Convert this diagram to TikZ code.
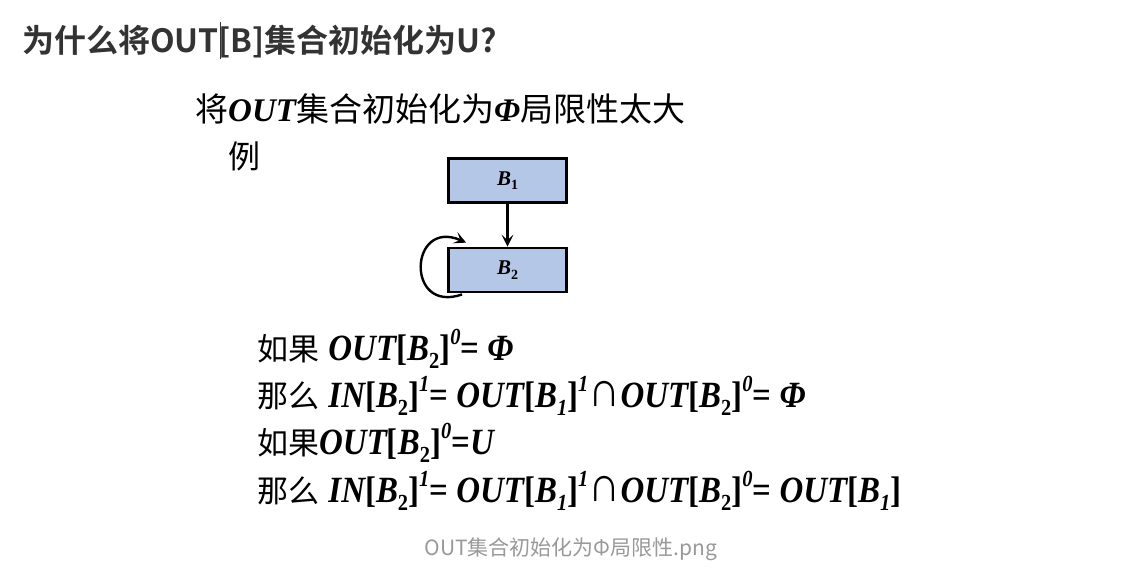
\documentclass[tikz,border=0pt]{standalone}
\usepackage{fontspec}
\setmainfont{Liberation Serif}
\newfontfamily\cjk{Noto Sans CJK SC}
\newfontfamily\cjkb{Noto Sans CJK SC Bold}
\newfontfamily\tnr{Liberation Serif}
\usetikzlibrary{arrows.meta}
\definecolor{boxfill}{HTML}{B4C7E7}
\definecolor{titlegray}{HTML}{333333}
\definecolor{capgray}{HTML}{999999}
\newcommand\mi[1]{{\tnr\bfseries\itshape #1}}
\newcommand\lo[1]{\raisebox{-0.22em}{\fontsize{23}{23}\selectfont\tnr\bfseries #1}}
\newcommand\hi[1]{\raisebox{0.42em}{\fontsize{23}{23}\selectfont\tnr\bfseries\itshape #1}}
\newcommand\bk[1]{{\tnr\bfseries #1}}
\newcommand\capop{\raisebox{0.02em}{\scalebox{1.35}{∩}}}
\newcommand\eqs[1]{\scalebox{0.89}[1]{#1}}
\newcommand\cj[1]{{\cjk\fontsize{31}{31}\selectfont #1}}
\tikzset{
  blk/.style={draw=black, line width=2.8pt, fill=boxfill, minimum width=118pt, minimum height=44pt, inner sep=0pt},
  eqline/.style={anchor=base west, inner sep=0pt, font=\fontsize{37}{37}\selectfont},
  arr/.style={line width=2.4pt, -{Stealth[length=12pt,width=12pt,inset=5.5pt]}}
}
\begin{document}
\begin{tikzpicture}[x=1pt,y=-1pt]
\useasboundingbox (0,0) rectangle (1122,582);
\fill[white] (0,0) rectangle (1122,582);
% title
\node[anchor=base west, inner sep=0pt, text=titlegray, font=\cjkb\fontsize{32}{32}\selectfont] (title) at (22,52) {为什么将OUT[B]集合初始化为U?};
\coordinate (curtop) at (220,22);
\coordinate (curbot) at (220,59);
\draw[line width=1pt, titlegray] (curtop) -- (curbot);
% slide heading
\node[anchor=base west, inner sep=0pt, font=\fontsize{33}{33}\selectfont] (head) at (195,121) {{\cjk 将}\mi{OUT}{\cjk 集合初始化为}\mi{Φ}{\cjk 局限性太大}};
\node[anchor=base west, inner sep=0pt, font=\cjk\fontsize{32}{32}\selectfont] (li) at (228,168) {例};
% blocks
\node[blk] (B1) at (507.5,180.5) {\fontsize{21}{21}\selectfont\mi{B}\lo{\fontsize{14}{14}\selectfont 1}};
\node[blk] (B2) at (507.5,270) {\fontsize{21}{21}\selectfont\mi{B}\lo{\fontsize{14}{14}\selectfont 2}};
\draw[arr] (B1) -- (B2);
\draw[arr] ([xshift=15pt,yshift=-1pt]B2.south west) .. controls +(-57,20) and +(-57,-25) .. ([xshift=19pt,yshift=4pt]B2.north west);
% equations
\node[eqline] (l1) at (257,360) {\cj{如果} \eqs{\mi{OUT}\bk{[}\mi{B}\lo{2}\bk{]}\hi{0}\bk{=} \mi{Φ}}};
\node[eqline] (l2) at (257,407) {\cj{那么} \eqs{\mi{IN}\bk{[}\mi{B}\lo{2}\bk{]}\hi{1}\bk{=} \mi{OUT}\bk{[}\mi{B}\lo{\itshape 1}\bk{]}\hi{1}\capop\mi{OUT}\bk{[}\mi{B}\lo{2}\bk{]}\hi{0}\bk{=} \mi{Φ}}};
\node[eqline] (l3) at (257,454) {\cj{如果}\eqs{\mi{OUT}\bk{[}\mi{B}\lo{2}\bk{]}\hi{0}\bk{=}\mi{U}}};
\node[eqline] (l4) at (257,502) {\cj{那么} \eqs{\mi{IN}\bk{[}\mi{B}\lo{2}\bk{]}\hi{1}\bk{=} \mi{OUT}\bk{[}\mi{B}\lo{\itshape 1}\bk{]}\hi{1}\capop\mi{OUT}\bk{[}\mi{B}\lo{2}\bk{]}\hi{0}\bk{=} \mi{OUT}\bk{[}\mi{B}\lo{\itshape 1}\bk{]}}};
% caption
\node[anchor=base, inner sep=0pt, text=capgray, font=\cjk\fontsize{21}{21}\selectfont] (cap) at (571,555) {OUT集合初始化为Φ局限性.png};
\end{tikzpicture}
\end{document}
